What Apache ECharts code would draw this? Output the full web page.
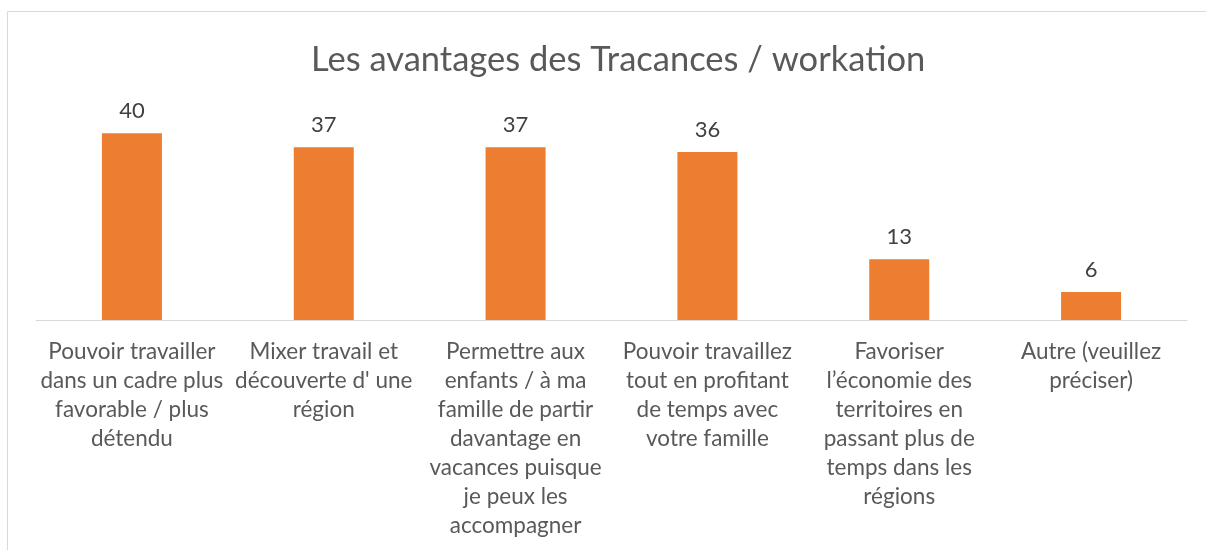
<!DOCTYPE html>
<html>
<head>
<meta charset="utf-8">
<script src="https://cdn.jsdelivr.net/npm/echarts@6/dist/echarts.min.js"></script>
<style>
  html, body { margin: 0; padding: 0; background: #fff; }
  #chart { width: 1206px; height: 550px; }
</style>
</head>
<body>
<div id="chart"></div>
<script>
// categories (line breaks as in the original chart)
const categories = [
  'Pouvoir travailler\ndans un cadre plus\nfavorable / plus\ndétendu',
  'Mixer travail et\ndécouverte d\' une\nrégion',
  'Permettre aux\nenfants / à ma\nfamille de partir\ndavantage en\nvacances puisque\nje peux les\naccompagner',
  'Pouvoir travaillez\ntout en profitant\nde temps avec\nvotre famille',
  'Favoriser\nl’économie des\nterritoires en\npassant plus de\ntemps dans les\nrégions',
  'Autre (veuillez\npréciser)'
]
const values = [40, 37, 37, 36, 13, 6]

const chart = echarts.init(document.getElementById('chart'), null, { renderer: 'canvas' })

chart.setOption({
  animation: false,
  backgroundColor: '#fff',
  textStyle: { fontFamily: 'Lato' },
  title: {
    text: 'Les avantages des Tracances / workation',
    left: 306,
    top: 37,
    textStyle: { fontFamily: 'Lato', fontSize: 34.5, fontWeight: 'normal', color: '#595959' }
  },
  graphic: [
    { type: 'line', shape: { x1: 7.5, y1: 11.5, x2: 1206, y2: 11.5 }, style: { stroke: '#d9d9d9', lineWidth: 1 } },
    { type: 'line', shape: { x1: 7.5, y1: 11.5, x2: 7.5, y2: 550 }, style: { stroke: '#d9d9d9', lineWidth: 1 } }
  ],
  grid: { left: 36, right: 19, top: 110, bottom: 230, containLabel: false },
  xAxis: {
    type: 'category',
    data: categories,
    axisLine: { lineStyle: { color: '#d9d9d9', width: 1 } },
    axisTick: { show: false },
    axisLabel: {
      interval: 0,
      margin: 17,
      fontFamily: 'Lato',
      fontSize: 22.5,
      lineHeight: 29,
      color: '#595959',
      align: 'center'
    }
  },
  yAxis: {
    type: 'value',
    min: 0,
    max: 45,
    interval: 5,
    show: false,
    splitLine: { show: false }
  },
  series: [{
    type: 'bar',
    data: values,
    barWidth: 60,
    itemStyle: { color: '#ED7D31' },
    label: {
      show: true,
      position: 'top',
      distance: 11,
      fontFamily: 'Lato',
      fontSize: 22,
      color: '#404040'
    }
  }]
})
</script>
</body>
</html>
